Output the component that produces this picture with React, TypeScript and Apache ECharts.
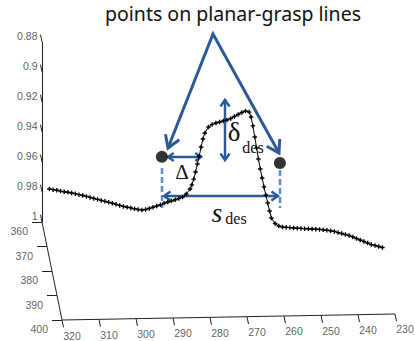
import React, { useEffect, useRef } from 'react';
import * as echarts from 'echarts';

// ---- data ----
const title = 'points on planar-grasp lines';
const zTicks = [0.88, 0.9, 0.92, 0.94, 0.96, 0.98, 1];
const zTickLabels = ['0.88', '0.9', '0.92', '0.94', '0.96', '0.98', '1'];
const depthTicks = [360, 370, 380, 390, 400];
const xTicks = [320, 310, 300, 290, 280, 270, 260, 250, 240, 230];
const curveDepth = 360;
// scan line: [x, z]
const curveXZ: [number, number][] = [
  [318, 0.9781], [317, 0.9786], [316, 0.979], [315, 0.9796], [314, 0.9801], [313, 0.9805],
  [312, 0.981], [311, 0.9815], [310, 0.9822], [309, 0.9828], [308, 0.9835], [307, 0.9842],
  [306, 0.9849], [305, 0.9856], [304, 0.9863], [303, 0.987], [302, 0.9877], [301, 0.9883],
  [300, 0.9891], [299, 0.9899], [298, 0.9906], [297, 0.9912], [296, 0.9917], [295, 0.9923],
  [294, 0.9928], [293, 0.9932], [292, 0.9929], [291, 0.9923], [290, 0.9915], [289, 0.9907],
  [288, 0.99], [287, 0.989], [286, 0.9882], [285, 0.9876], [284, 0.9868], [283, 0.986],
  [282, 0.985], [281, 0.9831], [280, 0.9798], [279.5, 0.9771], [279, 0.9732], [278.5, 0.9685],
  [278, 0.9632], [277.5, 0.9579], [277, 0.9519], [276.5, 0.9466], [276, 0.9426], [275, 0.9387],
  [274, 0.937], [273, 0.9361], [272, 0.9355], [271, 0.9348], [270, 0.9342], [269, 0.9333],
  [268, 0.932], [267, 0.9307], [266, 0.9294], [265, 0.9284], [264, 0.9292], [263.5, 0.9325],
  [263, 0.9385], [262.5, 0.9459], [262, 0.9532], [261.5, 0.9606], [261, 0.9673], [260.5, 0.9733],
  [260, 0.9793], [259.5, 0.9847], [259, 0.99], [258.5, 0.9954], [258, 1.0001], [257, 1.0038],
  [256, 1.0055], [255, 1.0062], [254, 1.0065], [253, 1.0067], [252, 1.007], [251, 1.0072],
  [250, 1.0074], [249, 1.0076], [248, 1.0077], [247, 1.0079], [246, 1.0081], [245, 1.0083],
  [244, 1.0086], [243, 1.0089], [242, 1.0093], [241, 1.0098], [240, 1.0106], [239, 1.0113],
  [238, 1.012], [237, 1.0127], [236, 1.0137], [235, 1.0148], [234, 1.0158], [233, 1.0169],
  [232, 1.0179], [231, 1.019], [230, 1.0197], [229, 1.0204], [228, 1.0211],
];
const graspX = [287.6, 255.7];
const graspZ = [0.958, 0.9635];

// ---- 3D -> plane projection (layout) ----
const X_MAX = 320, X_MIN = 230, D_MIN = 360, D_MAX = 400, Z_MIN = 0.88, Z_MAX = 1;
function project(X: number, D: number, Z: number): [number, number] {
  const u = X_MAX - X, d = D - D_MIN, w = Z_MAX - Z;
  return [42 + 3.7 * u + 0.5 * d, 222 - 0.0667 * u + 2.45 * d - 1500 * w];
}

function head(tip: number[], from: number[], len: number, angDeg: number) {
  const dx = from[0] - tip[0], dy = from[1] - tip[1];
  const L = Math.hypot(dx, dy);
  const ux = dx / L, uy = dy / L;
  const a = (angDeg * Math.PI) / 180;
  const r = (c: number, s: number) => [tip[0] + len * (ux * c - uy * s), tip[1] + len * (ux * s + uy * c)];
  return [r(Math.cos(a), Math.sin(a)), tip, r(Math.cos(a), -Math.sin(a))];
}

const DARK = '#2d5a97';
const LIGHT = '#5b8fd3';

function dblArrow(a: number[], b: number[], w: number, hl: number) {
  return [
    { type: 'polyline', shape: { points: [a, b] }, style: { stroke: DARK, lineWidth: w, fill: null } },
    { type: 'polyline', shape: { points: head(a, b, hl, 35) }, style: { stroke: DARK, lineWidth: w, fill: null } },
    { type: 'polyline', shape: { points: head(b, a, hl, 35) }, style: { stroke: DARK, lineWidth: w, fill: null } },
  ];
}

export default function App() {
  const ref = useRef<HTMLDivElement>(null);
  useEffect(() => {
    document.body.style.margin = '0';
    const chart = echarts.init(ref.current!, undefined, { renderer: 'svg' });

    const segs: number[][][] = [];
    segs.push([project(X_MAX, D_MIN, Z_MIN), project(X_MAX, D_MIN, Z_MAX)]);
    segs.push([project(X_MAX, D_MIN, Z_MAX), project(X_MAX, D_MAX, Z_MAX)]);
    segs.push([project(X_MAX, D_MAX, Z_MAX), project(X_MIN, D_MAX, Z_MAX)]);
    zTicks.forEach((z) => segs.push([project(X_MAX, D_MIN, z), project(X_MAX, D_MIN - 3, z)]));
    depthTicks.forEach((d) => segs.push([project(X_MAX, d, Z_MAX), project(X_MAX + 2.7, d, Z_MAX)]));
    xTicks.forEach((x) => segs.push([project(x, D_MAX, Z_MAX), project(x, D_MAX + 3, Z_MAX)]));

    const labelFont = { fontFamily: 'Liberation Sans', fontSize: 10.5, color: '#333' };
    const zLab = zTicks.map((z, i) => ({ value: project(X_MAX, D_MIN, z), name: zTickLabels[i] }));
    const dLab = depthTicks.map((d) => ({ value: project(X_MAX, d, Z_MAX), name: String(d) }));
    const xLab = xTicks.map((x) => ({ value: project(x, D_MAX, Z_MAX), name: String(x) }));

    const labelSeries = (data: any[], align: string, offset: number[]) => ({
      type: 'scatter',
      data,
      symbolSize: 1,
      itemStyle: { color: 'rgba(0,0,0,0)' },
      silent: true,
      label: {
        show: true,
        formatter: '{b}',
        position: 'inside',
        align,
        verticalAlign: 'middle',
        offset,
        ...labelFont,
      },
    });

    const apex = [213, 34], tipL = [168, 148], tipR = [279, 153];

    chart.setOption({
      animation: false,
      grid: { left: 0, right: 0, top: 0, bottom: 0 },
      xAxis: { type: 'value', min: 0, max: 415, show: false },
      yAxis: { type: 'value', min: 0, max: 341, inverse: true, show: false },
      series: [
        {
          type: 'lines',
          coordinateSystem: 'cartesian2d',
          silent: true,
          data: segs.map((c) => ({ coords: c })),
          lineStyle: { color: '#222', width: 1, opacity: 1 },
        },
        labelSeries(zLab, 'right', [-4.5, -6]),
        labelSeries(dLab, 'right', [-14, 9]),
        labelSeries(xLab, 'center', [10, 15.5]),
        {
          type: 'line',
          silent: true,
          data: curveXZ.map(([x, z]) => project(x, curveDepth, z)),
          lineStyle: { color: '#000', width: 1 },
          symbol: 'path://M-0.3,-1H0.3V-0.3H1V0.3H0.3V1H-0.3V0.3H-1V-0.3H-0.3Z',
          symbolSize: 4.5,
          itemStyle: { color: '#000' },
        },
        {
          type: 'scatter',
          silent: true,
          z: 5,
          data: graspX.map((x, i) => project(x, curveDepth, graspZ[i])),
          symbolSize: 12,
          itemStyle: { color: '#000' },
        },
      ],
      graphic: [
        {
          type: 'text', x: 233, y: 13,
          style: { text: title, fontFamily: 'Noto Sans', fontSize: 19.5, fill: '#111', align: 'center', verticalAlign: 'middle' },
        },
        { type: 'polyline', shape: { points: [tipL, apex, tipR] }, style: { stroke: DARK, lineWidth: 3, fill: null, lineJoin: 'miter' } },
        { type: 'polyline', shape: { points: head(tipL, apex, 14, 32) }, style: { stroke: DARK, lineWidth: 3, fill: null } },
        { type: 'polyline', shape: { points: head(tipR, apex, 14, 32) }, style: { stroke: DARK, lineWidth: 3, fill: null } },
        { type: 'line', shape: { x1: 162, y1: 168, x2: 162, y2: 208 }, style: { stroke: LIGHT, lineWidth: 2.5, lineDash: [6, 3] } },
        { type: 'line', shape: { x1: 280, y1: 170, x2: 280, y2: 208 }, style: { stroke: LIGHT, lineWidth: 2.5, lineDash: [6, 3] } },
        ...dblArrow([168, 157], [201, 157], 2.5, 7),
        ...dblArrow([164, 196], [278, 196], 2.5, 8),
        ...dblArrow([225, 100], [225, 160], 2.5, 8),
        { type: 'text', x: 182, y: 172, style: { text: 'Δ', fontFamily: 'Liberation Serif', fontSize: 21, fill: '#111', align: 'center', verticalAlign: 'middle' } },
        { type: 'text', x: 234, y: 132, style: { text: 'δ', fontFamily: 'Liberation Serif', fontSize: 27, fill: '#111', align: 'center', verticalAlign: 'middle' } },
        { type: 'text', x: 253, y: 147, style: { text: 'des', fontFamily: 'Liberation Serif', fontSize: 16, fill: '#111', align: 'center', verticalAlign: 'middle' } },
        { type: 'text', x: 217, y: 213, style: { text: 's', fontFamily: 'Liberation Serif', fontStyle: 'italic', fontSize: 27, fill: '#111', align: 'center', verticalAlign: 'middle' } },
        { type: 'text', x: 236, y: 218, style: { text: 'des', fontFamily: 'Liberation Serif', fontSize: 16, fill: '#111', align: 'center', verticalAlign: 'middle' } },
      ],
    });
    return () => chart.dispose();
  }, []);
  return <div ref={ref} style={{ width: 415, height: 341 }} />;
}
